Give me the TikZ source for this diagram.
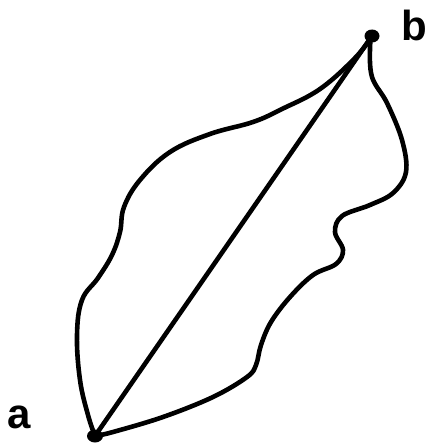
\documentclass[tikz,border=0pt]{standalone}
\usepackage{fontspec}
\setmainfont{Liberation Sans}
\begin{document}
\begin{tikzpicture}[x=1pt,y=-1pt,
  curve/.style={line width=4.6pt, line cap=round, line join=round},
  lbl/.style={font=\bfseries\fontsize{42}{50}\selectfont, anchor=base, inner sep=0pt}]
\useasboundingbox (0,0) rectangle (427,444);
\coordinate (a) at (95,436);
\coordinate (b) at (372,36);
\draw[curve] (a) -- (b);
\draw[curve] plot[smooth, tension=0.65] coordinates {(a) (88,415) (80,380) (77,335) (82,300) (98,278) (112,255) (120,232) (124,207) (140,180) (170,152) (210,134) (253,122) (282,109) (320,89) (355,58) (b)};
\draw[curve] plot[smooth, tension=0.6] coordinates {(b) (370,47) (372,77) (387,103) (402,140) (406,172) (393,193) (370,205) (342,216) (335,232) (343,250) (336,264) (313,275) (290,297) (271,322) (261,345) (256,365) (247,377) (213,397) (163,417) (113,432) (a)};
\fill (a) ellipse [x radius=8, y radius=6.5];
\fill (b) ellipse [x radius=7.5, y radius=6.5];
\node[lbl] (la) at (19.5,428) {a};
\node[lbl] (lb) at (414.5,41) {b};
\end{tikzpicture}
\end{document}
